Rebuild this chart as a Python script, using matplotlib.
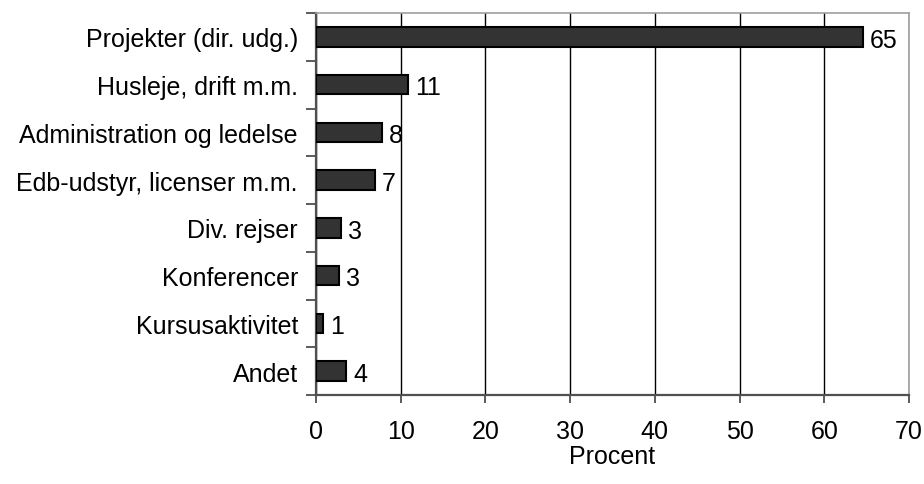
import matplotlib
matplotlib.use("Agg")
import matplotlib.pyplot as plt
import numpy as np

categories = ["Projekter (dir. udg.)", "Husleje, drift m.m.", "Administration og ledelse",
              "Edb-udstyr, licenser m.m.", "Div. rejser", "Konferencer", "Kursusaktivitet", "Andet"]
values = [64.6, 10.9, 7.8, 7.0, 2.9, 2.7, 0.8, 3.6]
labels = ["65", "11", "8", "7", "3", "3", "1", "4"]
xticks = [0, 10, 20, 30, 40, 50, 60, 70]

plt.rcParams['font.family'] = ['Liberation Sans', 'DejaVu Sans']
FS = 18

fig = plt.figure(figsize=(9.24, 4.85), dpi=100)
ax = fig.add_axes([316/924, 1 - 396/485, (909-316)/924, (396-14)/485])

y = np.arange(len(categories))
ax.barh(y, values, height=0.41, color='#333333', edgecolor='black', linewidth=1.5, zorder=3)
ax.set_ylim(len(categories) - 0.5, -0.5)
ax.set_xlim(0, 70)
ax.set_xticks(xticks)
ax.set_xticklabels([str(t) for t in xticks], fontsize=FS)
ax.xaxis.grid(True, color='black', linewidth=1, zorder=0)
ax.set_axisbelow(True)

ax.set_yticks(y)
ax.set_yticklabels(categories, fontsize=FS)
ax.tick_params(axis='y', length=0, pad=13)
ax.set_yticks(np.arange(-0.5, len(categories), 1), minor=True)
ax.tick_params(axis='y', which='minor', length=7, width=1.2, color='#404040', direction='out')
ax.tick_params(axis='x', length=6, width=1.2, color='#404040', direction='out', pad=11)

for s in ['top', 'right']:
    ax.spines[s].set_color('#a0a0a0')
    ax.spines[s].set_linewidth(1.2)
for s in ['left', 'bottom']:
    ax.spines[s].set_color('#505050')
    ax.spines[s].set_linewidth(1.6)

for yi, v, lab in zip(y, values, labels):
    ax.annotate(lab, (v, yi), xytext=(5, -2), textcoords='offset points',
                ha='left', va='center', fontsize=FS)

ax.set_xlabel("Procent", fontsize=FS, labelpad=1)

fig.savefig("out.png", dpi=100)
